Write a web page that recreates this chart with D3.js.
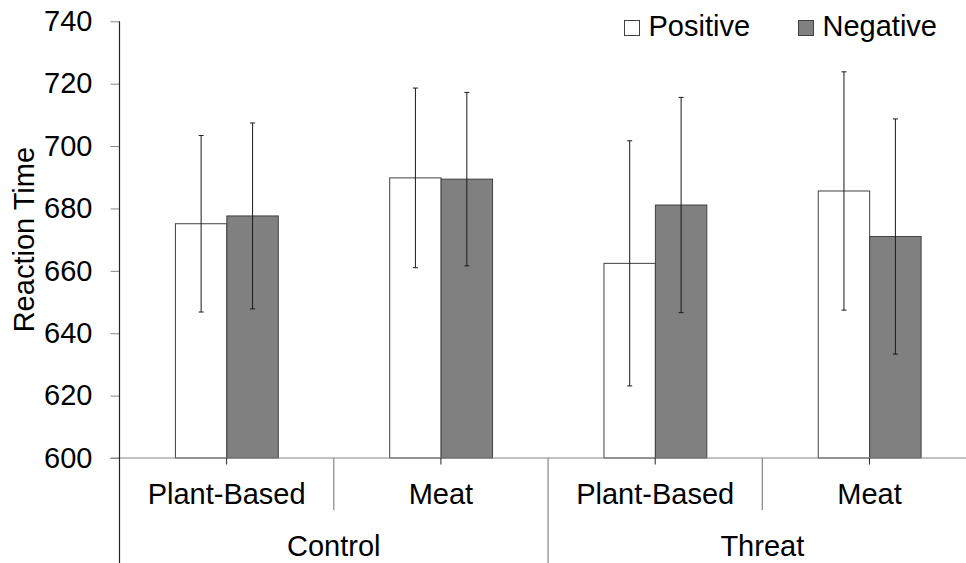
<!DOCTYPE html>
<html>
<head>
<meta charset="utf-8">
<script src="https://cdn.jsdelivr.net/npm/d3@7"></script>
<style>
  html, body { margin: 0; padding: 0; background: #fff; }
  svg { display: block; }
  text { font-family: "Liberation Sans", Arial, sans-serif; fill: #000; }
</style>
</head>
<body>
<svg id="chart" width="966" height="563"></svg>
<script>
// ---- data ----
const groups = ["Control", "Threat"];
const foods = ["Plant-Based", "Meat"];
const seriesNames = ["Positive", "Negative"];
const positiveValues = [675.1, 689.8, 662.4, 685.6];
const negativeValues = [677.6, 689.4, 681.1, 671.0];
const positiveErrors = [28.3, 28.8, 39.3, 38.2];
const negativeErrors = [29.8, 27.8, 34.5, 37.7];
const yTicks = [600, 620, 640, 660, 680, 700, 720, 740];
const yTitle = "Reaction Time";

// ---- layout ----
const svg = d3.select("#chart");
const W = 966, H = 563;
const axisX = 119.5, baseY = 458, topY = 21.3;

const cats = [];
groups.forEach(g => foods.forEach(f => cats.push(g + "|" + f)));

const x0 = d3.scaleBand().domain(cats).range([axisX, 976.6]).padding(0);
const bw = x0.bandwidth();
const x1 = d3.scaleBand().domain(seriesNames).range([bw * 0.261, bw * 0.741]).padding(0);
const y = d3.scaleLinear().domain([600, 740]).range([baseY, topY]);

const fills = { Positive: "#ffffff", Negative: "#808080" };

const rows = cats.map((c, i) => ({
  cat: c,
  vals: [
    { s: "Positive", v: positiveValues[i], e: positiveErrors[i] },
    { s: "Negative", v: negativeValues[i], e: negativeErrors[i] }
  ]
}));

// y axis ticks + labels
const yAxis = d3.axisLeft(y).tickValues(yTicks).tickSize(9).tickPadding(18).tickFormat(d3.format("d"));
const ga = svg.append("g").attr("transform", `translate(${axisX},0)`).call(yAxis);
ga.select(".domain").remove();
ga.selectAll(".tick line").attr("stroke", "#868686").attr("stroke-width", 1);
ga.selectAll(".tick text").style("font-size", "29px").style("font-family", '"Liberation Sans", Arial, sans-serif').attr("fill", "#000");

// bars
const gBars = svg.append("g");
rows.forEach(r => {
  const g = gBars.append("g").attr("transform", `translate(${x0(r.cat)},0)`);
  g.selectAll("rect").data(r.vals).join("rect")
    .attr("x", d => x1(d.s))
    .attr("y", d => y(d.v))
    .attr("width", x1.bandwidth())
    .attr("height", d => y(600) - y(d.v))
    .attr("fill", d => fills[d.s])
    .attr("stroke", "#404040")
    .attr("stroke-width", 1);
});

// baseline (category axis)
svg.append("line").attr("x1", axisX - 9).attr("x2", W).attr("y1", baseY).attr("y2", baseY)
  .attr("stroke", "#868686").attr("stroke-width", 1.2);

// vertical value-axis line
svg.append("line").attr("x1", axisX).attr("x2", axisX).attr("y1", topY).attr("y2", H)
  .attr("stroke", "#262626").attr("stroke-width", 1.2);

// error bars
const gErr = svg.append("g");
rows.forEach(r => {
  r.vals.forEach(d => {
    const cx = x0(r.cat) + x1(d.s) + x1.bandwidth() / 2;
    const g = gErr.append("g").attr("stroke", "#1a1a1a").attr("stroke-width", 1);
    g.append("line").attr("x1", cx).attr("x2", cx).attr("y1", y(d.v + d.e)).attr("y2", y(d.v - d.e));
    g.append("line").attr("x1", cx - 2.5).attr("x2", cx + 2.5).attr("y1", y(d.v + d.e)).attr("y2", y(d.v + d.e));
    g.append("line").attr("x1", cx - 2.5).attr("x2", cx + 2.5).attr("y1", y(d.v - d.e)).attr("y2", y(d.v - d.e));
  });
});

// category ticks at centers
cats.forEach(c => {
  const cx = x0(c) + bw / 2;
  svg.append("line").attr("x1", cx).attr("x2", cx).attr("y1", baseY).attr("y2", baseY + 6.5)
    .attr("stroke", "#262626").attr("stroke-width", 1);
});

// separators between foods and groups
cats.forEach((c, i) => {
  if (i === 0) return;
  const xb = x0(c);
  const isGroup = i % foods.length === 0;
  svg.append("line").attr("x1", xb).attr("x2", xb).attr("y1", baseY).attr("y2", isGroup ? H : 510)
    .attr("stroke", "#868686").attr("stroke-width", 1.2);
});

// food labels
cats.forEach(c => {
  svg.append("text").attr("x", x0(c) + bw / 2).attr("y", 503.5)
    .attr("text-anchor", "middle").style("font-size", "29px")
    .text(c.split("|")[1]);
});

// group labels
groups.forEach(g => {
  const first = x0(g + "|" + foods[0]);
  const last = x0(g + "|" + foods[foods.length - 1]) + bw;
  svg.append("text").attr("x", (first + last) / 2).attr("y", 556)
    .attr("text-anchor", "middle").style("font-size", "29px").text(g);
});

// y title
svg.append("text")
  .attr("transform", `translate(34,${(topY + baseY) / 2}) rotate(-90)`)
  .attr("text-anchor", "middle").style("font-size", "29px").text(yTitle);

// legend
const legendPos = [{ s: "Positive", x: 624.5 }, { s: "Negative", x: 798.5 }];
legendPos.forEach(l => {
  svg.append("rect").attr("x", l.x).attr("y", 20.5).attr("width", 15).attr("height", 15)
    .attr("fill", fills[l.s]).attr("stroke", "#404040").attr("stroke-width", 1);
  svg.append("text").attr("x", l.x + 24).attr("y", 36).style("font-size", "29px").text(l.s);
});
</script>
</body>
</html>
